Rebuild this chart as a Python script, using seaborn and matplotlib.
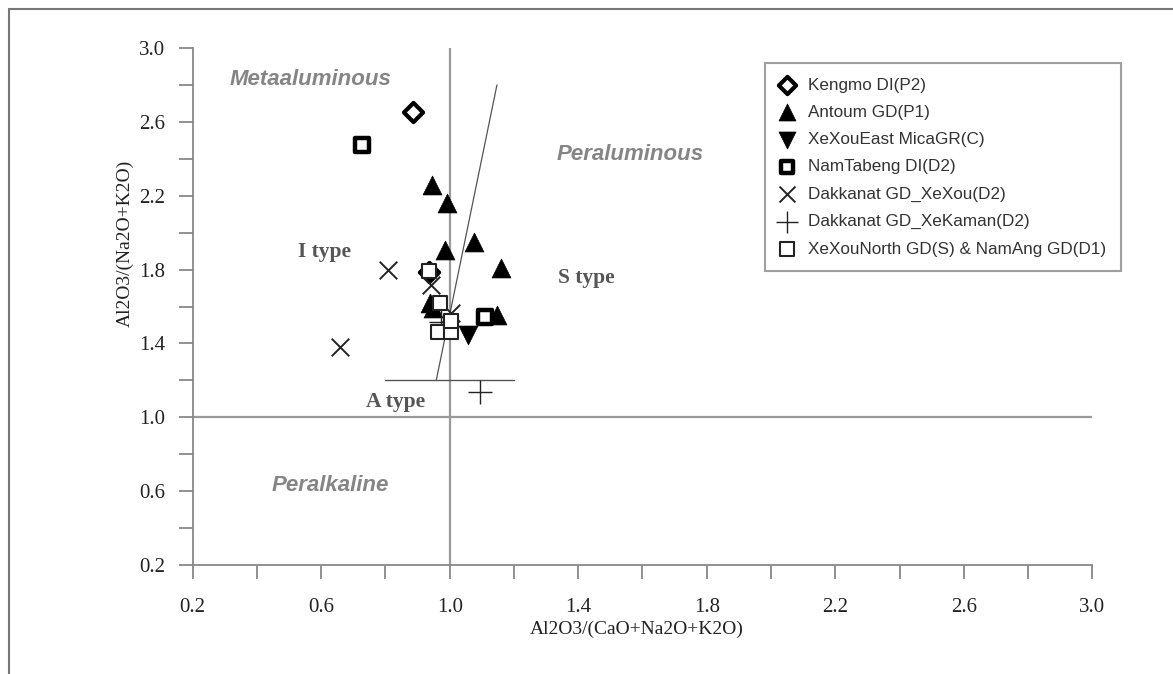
import numpy as np
import pandas as pd
import matplotlib
matplotlib.use("Agg")
import matplotlib.pyplot as plt
from matplotlib.lines import Line2D
from matplotlib.ticker import MultipleLocator, FuncFormatter
import seaborn as sns

# ---- sample groups: A/CNK (x) and A/NK (y) ----
kengmo_x = [0.886, 0.935]
kengmo_y = [2.652, 1.789]

antoum_x = [0.946, 0.991, 0.986, 1.074, 1.160, 0.938, 0.948, 1.147]
antoum_y = [2.258, 2.159, 1.906, 1.948, 1.807, 1.618, 1.590, 1.554]

xexoueast_x = [1.058]
xexoueast_y = [1.446]

namtabeng_x = [0.726, 1.109]
namtabeng_y = [2.475, 1.545]

dak_xexou_x = [0.808, 0.658, 0.943, 1.005]
dak_xexou_y = [1.798, 1.382, 1.717, 1.563]

dak_xekaman_x = [1.093, 0.974]
dak_xekaman_y = [1.139, 1.518]

xexounorth_x = [0.937, 0.969, 0.963, 1.005, 1.005]
xexounorth_y = [1.790, 1.618, 1.464, 1.464, 1.520]

labels = ["Kengmo DI(P2)", "Antoum GD(P1)", "XeXouEast MicaGR(C)",
          "NamTabeng DI(D2)", "Dakkanat GD_XeXou(D2)",
          "Dakkanat GD_XeKaman(D2)", "XeXouNorth GD(S) & NamAng GD(D1)"]

# boundary lines of the discrimination diagram
ai_line_x = [0.8, 1.2]
ai_line_y = [1.2, 1.2]
is_line_x = [0.958, 1.147]
is_line_y = [1.2, 2.8]

sns.set_theme(style="white")
plt.rcParams["font.family"] = ["Liberation Serif", "DejaVu Serif"]

fig = plt.figure(figsize=(11.73, 6.74), dpi=100)
ax = fig.add_axes([192.7 / 1173, (674 - 565) / 674,
                   (1092.3 - 192.7) / 1173, (565 - 48) / 674])

grey = "#9a9a9a"
ax.plot([1.0, 1.0], [0.2, 3.0], color=grey, lw=1.6, zorder=1)
ax.plot([0.2, 3.0], [1.0, 1.0], color=grey, lw=1.6, zorder=1)
ax.plot(ai_line_x, ai_line_y, color="#555555", lw=1.0, zorder=1)
ax.plot(is_line_x, is_line_y, color="#555555", lw=0.9, zorder=1)

groups = [
    (kengmo_x, kengmo_y, dict(marker="D", s=95, facecolor="white", edgecolor="black", linewidth=3.0)),
    (antoum_x, antoum_y, dict(marker="^", s=185, color="black", edgecolor="black", linewidth=0.5)),
    (xexoueast_x, xexoueast_y, dict(marker="v", s=185, color="black", edgecolor="black", linewidth=0.5)),
    (namtabeng_x, namtabeng_y, dict(marker="s", s=95, facecolor="white", edgecolor="black", linewidth=3.2)),
    (dak_xexou_x, dak_xexou_y, dict(marker="x", s=160, color="#222222", linewidth=1.4)),
    (dak_xekaman_x, dak_xekaman_y, dict(marker="+", s=290, color="#222222", linewidth=1.0)),
    (xexounorth_x, xexounorth_y, dict(marker="s", s=115, facecolor="white", edgecolor="#222222", linewidth=1.5)),
]
for (gx, gy, kw), lab in zip(groups, labels):
    sns.scatterplot(x=gx, y=gy, ax=ax, label=lab, zorder=3, legend=True, **kw)

ax.set_xlim(0.2, 3.0)
ax.set_ylim(0.2, 3.0)
for side in ["top", "right"]:
    ax.spines[side].set_visible(False)
for side in ["left", "bottom"]:
    ax.spines[side].set_color("#888888")
    ax.spines[side].set_linewidth(1.3)

ax.xaxis.set_major_locator(MultipleLocator(0.2))
ax.yaxis.set_major_locator(MultipleLocator(0.2))
fmt = FuncFormatter(lambda v, p: f"{v:.1f}" if abs(((v - 0.2) / 0.4) - round((v - 0.2) / 0.4)) < 1e-6 else "")
ax.xaxis.set_major_formatter(fmt)
ax.yaxis.set_major_formatter(fmt)
ax.tick_params(axis="both", direction="out", length=10, width=1.3, color="#888888",
               labelsize=15, labelcolor="#222222",
               bottom=True, left=True)
ax.tick_params(axis="x", pad=14)
ax.tick_params(axis="y", pad=10)

ax.set_xlabel("Al2O3/(CaO+Na2O+K2O)", fontsize=14, color="#222222")
ax.set_ylabel("Al2O3/(Na2O+K2O)", fontsize=14, color="#222222")
ax.xaxis.set_label_coords(0.494, -0.108)
ax.yaxis.set_label_coords(-0.066, 0.623)

region_kw = dict(family="Liberation Sans", fontweight="bold", fontstyle="italic",
                 fontsize=16, color="#858585", ha="center", va="center")
ax.text(0.568, 2.827, "Metaaluminous", **region_kw)
ax.text(1.562, 2.421, "Peraluminous", **region_kw)
ax.text(0.627, 0.633, "Peralkaline", **region_kw)

type_kw = dict(family="Liberation Serif", fontweight="bold", fontsize=15.5,
               color="#555555", ha="center", va="center")
ax.text(0.611, 1.897, "I type", **type_kw)
ax.text(1.426, 1.755, "S type", **type_kw)
ax.text(0.832, 1.085, "A type", **type_kw)

leg = ax.legend(loc="upper left", bbox_to_anchor=(765 / 1173, 1 - 63 / 674),
                bbox_transform=fig.transFigure, frameon=True, fancybox=False,
                prop={"family": "Liberation Sans", "size": 12.3},
                labelspacing=0.72, handletextpad=0.78, borderpad=0.85,
                handlelength=0.9, borderaxespad=0, markerscale=0.9)
leg.get_frame().set_edgecolor("#888888")
leg.get_frame().set_linewidth(1.5)
for t in leg.get_texts():
    t.set_color("#333333")

# outer frame strokes along the left and top of the figure
fig.add_artist(Line2D([9 / 1173, 9 / 1173], [0, 1 - 9 / 674], transform=fig.transFigure,
                      color="#777777", lw=1.5))
fig.add_artist(Line2D([9 / 1173, 1], [1 - 9 / 674, 1 - 9 / 674], transform=fig.transFigure,
                      color="#777777", lw=1.5))

fig.savefig("out.png", dpi=100, facecolor="white")
